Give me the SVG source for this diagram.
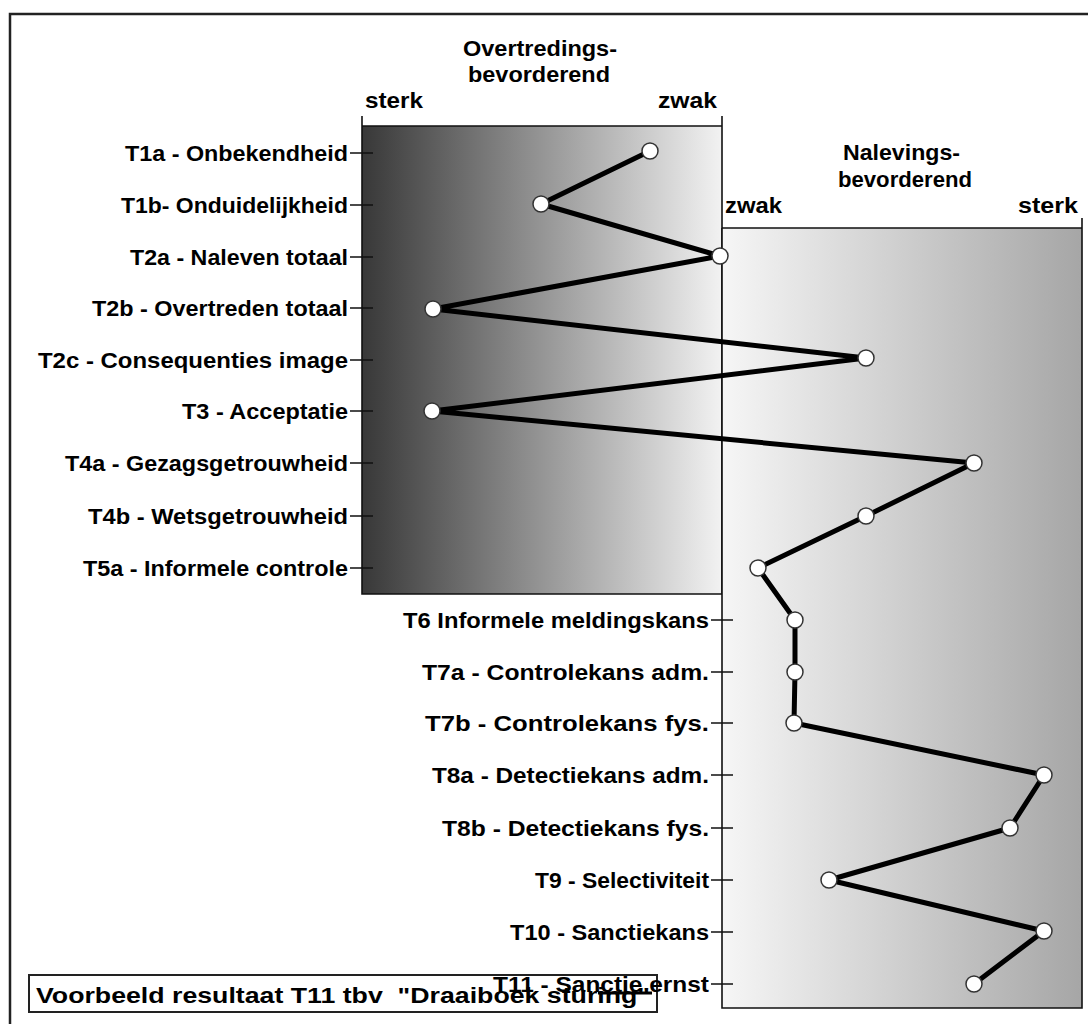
<svg xmlns="http://www.w3.org/2000/svg" width="1088" height="1024" viewBox="0 0 1088 1024">
<defs>
<linearGradient id="gL" x1="0" y1="0" x2="1" y2="0">
<stop offset="0" stop-color="#383838"/>
<stop offset="1" stop-color="#f2f2f2"/>
</linearGradient>
<linearGradient id="gR" x1="0" y1="0" x2="1" y2="0">
<stop offset="0" stop-color="#f6f6f6"/>
<stop offset="1" stop-color="#a6a6a6"/>
</linearGradient>
</defs>
<style>
text{font-family:"Liberation Sans",Arial,sans-serif;font-weight:bold;font-size:22px;fill:#000}
.lab{text-anchor:end}
.ax{stroke:#111;stroke-width:1.6;fill:none}
.tick{stroke:#111;stroke-width:1.6}
.ser{fill:none;stroke:#000;stroke-width:5;stroke-linejoin:round}
.pt{fill:#fff;stroke:#333;stroke-width:1.5}
</style>
<rect x="0" y="0" width="1088" height="1024" fill="#fff"/>
<g id="frame">
<path d="M10 1024 V14 H1088" fill="none" stroke="#222" stroke-width="2.5"/>
</g>
<g id="panel-overtreding">
<rect x="362" y="126" width="360" height="468" fill="url(#gL)"/>
<path class="ax" d="M362 116 V594 H722 M362 126 H722 M722 116 V594"/>
<text x="463" y="56" textLength="154" lengthAdjust="spacingAndGlyphs">Overtredings-</text>
<text x="468" y="82" textLength="142" lengthAdjust="spacingAndGlyphs">bevorderend</text>
<text x="365" y="108" textLength="58" lengthAdjust="spacingAndGlyphs">sterk</text>
<text x="658" y="108" textLength="59" lengthAdjust="spacingAndGlyphs">zwak</text>
</g>
<g id="panel-naleving">
<rect x="722" y="228" width="360" height="780" fill="url(#gR)"/>
<path class="ax" d="M722 228 H1082 M1082 218 V1008 H722 V228"/>
<text x="843" y="160" textLength="117" lengthAdjust="spacingAndGlyphs">Nalevings-</text>
<text x="838" y="187" textLength="134" lengthAdjust="spacingAndGlyphs">bevorderend</text>
<text x="725" y="213" textLength="57" lengthAdjust="spacingAndGlyphs">zwak</text>
<text x="1018" y="213" textLength="60" lengthAdjust="spacingAndGlyphs">sterk</text>
</g>
<g id="legend">
<rect x="29" y="975" width="628" height="37" fill="none" stroke="#222" stroke-width="2"/>
<text x="36" y="1003" textLength="614" lengthAdjust="spacingAndGlyphs">Voorbeeld resultaat T11 tbv &#160;"Draaiboek sturing"</text>
<line x1="598" y1="993" x2="652" y2="993" stroke="#000" stroke-width="3"/>
</g>
<g id="ticks">
<path class="tick" d="M350 153 H373 M350 205 H373 M350 257 H373 M350 308 H373 M350 360 H373 M350 411 H373 M350 463 H373 M350 516 H373 M350 568 H373 M711 620 H733 M711 672 H733 M711 723 H733 M711 775 H733 M711 828 H733 M711 880 H733 M711 932 H733 M711 984 H733"/>
</g>
<g id="labels">
<g id="T1a"><text class="lab" x="348" y="161" textLength="223" lengthAdjust="spacingAndGlyphs">T1a - Onbekendheid</text></g>
<g id="T1b"><text class="lab" x="348" y="213" textLength="227" lengthAdjust="spacingAndGlyphs">T1b- Onduidelijkheid</text></g>
<g id="T2a"><text class="lab" x="348" y="265" textLength="218" lengthAdjust="spacingAndGlyphs">T2a - Naleven totaal</text></g>
<g id="T2b"><text class="lab" x="348" y="316" textLength="256" lengthAdjust="spacingAndGlyphs">T2b - Overtreden totaal</text></g>
<g id="T2c"><text class="lab" x="348" y="368" textLength="310" lengthAdjust="spacingAndGlyphs">T2c - Consequenties image</text></g>
<g id="T3"><text class="lab" x="348" y="419" textLength="166" lengthAdjust="spacingAndGlyphs">T3 - Acceptatie</text></g>
<g id="T4a"><text class="lab" x="348" y="471" textLength="283" lengthAdjust="spacingAndGlyphs">T4a - Gezagsgetrouwheid</text></g>
<g id="T4b"><text class="lab" x="348" y="524" textLength="260" lengthAdjust="spacingAndGlyphs">T4b - Wetsgetrouwheid</text></g>
<g id="T5a"><text class="lab" x="348" y="576" textLength="265" lengthAdjust="spacingAndGlyphs">T5a - Informele controle</text></g>
<g id="T6"><text class="lab" x="709" y="628" textLength="306" lengthAdjust="spacingAndGlyphs">T6 Informele meldingskans</text></g>
<g id="T7a"><text class="lab" x="709" y="680" textLength="287" lengthAdjust="spacingAndGlyphs">T7a - Controlekans adm.</text></g>
<g id="T7b"><text class="lab" x="709" y="731" textLength="284" lengthAdjust="spacingAndGlyphs">T7b - Controlekans fys.</text></g>
<g id="T8a"><text class="lab" x="709" y="783" textLength="277" lengthAdjust="spacingAndGlyphs">T8a - Detectiekans adm.</text></g>
<g id="T8b"><text class="lab" x="709" y="836" textLength="267" lengthAdjust="spacingAndGlyphs">T8b - Detectiekans fys.</text></g>
<g id="T9"><text class="lab" x="709" y="888" textLength="174" lengthAdjust="spacingAndGlyphs">T9 - Selectiviteit</text></g>
<g id="T10"><text class="lab" x="709" y="940" textLength="199" lengthAdjust="spacingAndGlyphs">T10 - Sanctiekans</text></g>
<g id="T11"><text class="lab" x="709" y="992" textLength="216" lengthAdjust="spacingAndGlyphs">T11 - Sanctie ernst</text></g>
</g>
<g id="connectors">
<polyline class="ser" points="650,151 541,204 720,256 433,309 866,358 432,411 974,463 866,516 758,568 795,620 795,672 794,723 1044,775 1010,828 829,880 1044,931 974,984"/>
</g>
<g id="points">
<circle class="pt" cx="650" cy="151" r="8"/>
<circle class="pt" cx="541" cy="204" r="8"/>
<circle class="pt" cx="720" cy="256" r="8"/>
<circle class="pt" cx="433" cy="309" r="8"/>
<circle class="pt" cx="866" cy="358" r="8"/>
<circle class="pt" cx="432" cy="411" r="8"/>
<circle class="pt" cx="974" cy="463" r="8"/>
<circle class="pt" cx="866" cy="516" r="8"/>
<circle class="pt" cx="758" cy="568" r="8"/>
<circle class="pt" cx="795" cy="620" r="8"/>
<circle class="pt" cx="795" cy="672" r="8"/>
<circle class="pt" cx="794" cy="723" r="8"/>
<circle class="pt" cx="1044" cy="775" r="8"/>
<circle class="pt" cx="1010" cy="828" r="8"/>
<circle class="pt" cx="829" cy="880" r="8"/>
<circle class="pt" cx="1044" cy="931" r="8"/>
<circle class="pt" cx="974" cy="984" r="8"/>
</g>
</svg>
